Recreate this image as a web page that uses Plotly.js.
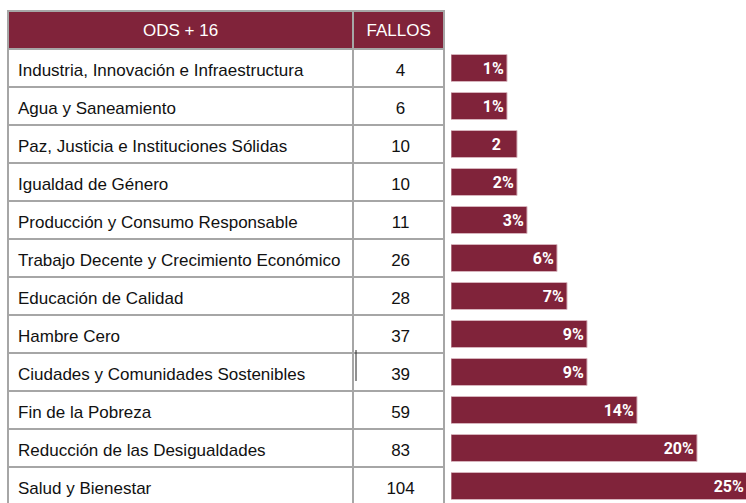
<!DOCTYPE html>
<html>
<head>
<meta charset="utf-8">
<script src="https://cdn.plot.ly/plotly-3.0.1.min.js"></script>
<style>
html,body{margin:0;padding:0;overflow:hidden;background:#fff;}
#chart{width:746px;height:508px;}
</style>
</head>
<body>
<div id="chart"></div>
<script>
const headers = ["ODS + 16", "FALLOS"];
const categories = [
  "Industria, Innovación e Infraestructura",
  "Agua y Saneamiento",
  "Paz, Justicia e Instituciones Sólidas",
  "Igualdad de Género",
  "Producción y Consumo Responsable",
  "Trabajo Decente y Crecimiento Económico",
  "Educación de Calidad",
  "Hambre Cero",
  "Ciudades y Comunidades Sostenibles",
  "Fin de la Pobreza",
  "Reducción de las Desigualdades",
  "Salud y Bienestar"
];
const fallos = [4, 6, 10, 10, 11, 26, 28, 37, 39, 59, 83, 104];
const pct = [1, 1, 2, 2, 3, 6, 7, 9, 9, 14, 20, 25];
const pctLabels = ["1%", "1%", "2", "2%", "3%", "6%", "7%", "9%", "9%", "14%", "20%", "25%"];

const maroon = "#80233A";
const W = 746, H = 508;

const table = {
  type: "table",
  domain: {x: [8 / W, 445 / W], y: [0, 1 - 11 / H]},
  columnwidth: [346, 91],
  header: {
    values: headers,
    align: ["center", "center"],
    fill: {color: maroon},
    line: {color: "#a6a6a6", width: 2},
    font: {family: "Liberation Sans, Arial, sans-serif", size: 17, color: "#ffffff"},
    height: 38
  },
  cells: {
    values: [categories, fallos],
    align: ["left", "center"],
    fill: {color: "#ffffff"},
    line: {color: "#a6a6a6", width: 2},
    font: {family: "Liberation Sans, Arial, sans-serif", size: 17, color: "#111111"},
    height: 38
  }
};

const bars = {
  type: "bar",
  orientation: "h",
  y: categories,
  x: pct.map(v => v + 4.6),
  base: -4.6,
  text: pctLabels.map(s => s.endsWith("%") ? s : s + "\u2007\u00A0"),
  textposition: "inside",
  insidetextanchor: "end",
  textangle: 0,
  constraintext: "none",
  textfont: {family: "Roboto, sans-serif", size: 16, color: "#ffffff", weight: 700},
  marker: {color: maroon, line: {color: "#d6b3bc", width: 1}},
  hoverinfo: "skip",
  xaxis: "x",
  yaxis: "y"
};

const layout = {
  width: W,
  height: H,
  margin: {l: 0, r: 0, t: 0, b: 0, pad: 0},
  paper_bgcolor: "#ffffff",
  plot_bgcolor: "rgba(0,0,0,0)",
  showlegend: false,
  bargap: 1 - 27 / 38,
  xaxis: {domain: [451 / W, 1], range: [-4.6, 24.9], visible: false, fixedrange: true},
  yaxis: {domain: [3 / H, 1 - 49 / H], type: "category", autorange: "reversed", visible: false, fixedrange: true},
  shapes: [
    {type: "line", xref: "paper", yref: "paper",
     x0: 356 / W, x1: 356 / W, y0: 1 - 350 / H, y1: 1 - 381 / H,
     line: {color: "#222222", width: 1}}
  ]
};

function centerTableText() {
  document.querySelectorAll("#chart .column-block").forEach(function (blk) {
    const d = blk.__data__;
    const isHeader = d && d.type === "header";
    const dy = isHeader ? 4 : 6;
    const dx = isHeader ? 0 : 2;
    blk.querySelectorAll(".cell-text").forEach(function (t) {
      t.style.transform = "translate(" + dx + "px," + dy + "px)";
    });
  });
}

Plotly.newPlot("chart", [table, bars], layout, {displayModeBar: false, staticPlot: true})
  .then(function () { centerTableText(); setTimeout(centerTableText, 50); });
</script>
</body>
</html>
